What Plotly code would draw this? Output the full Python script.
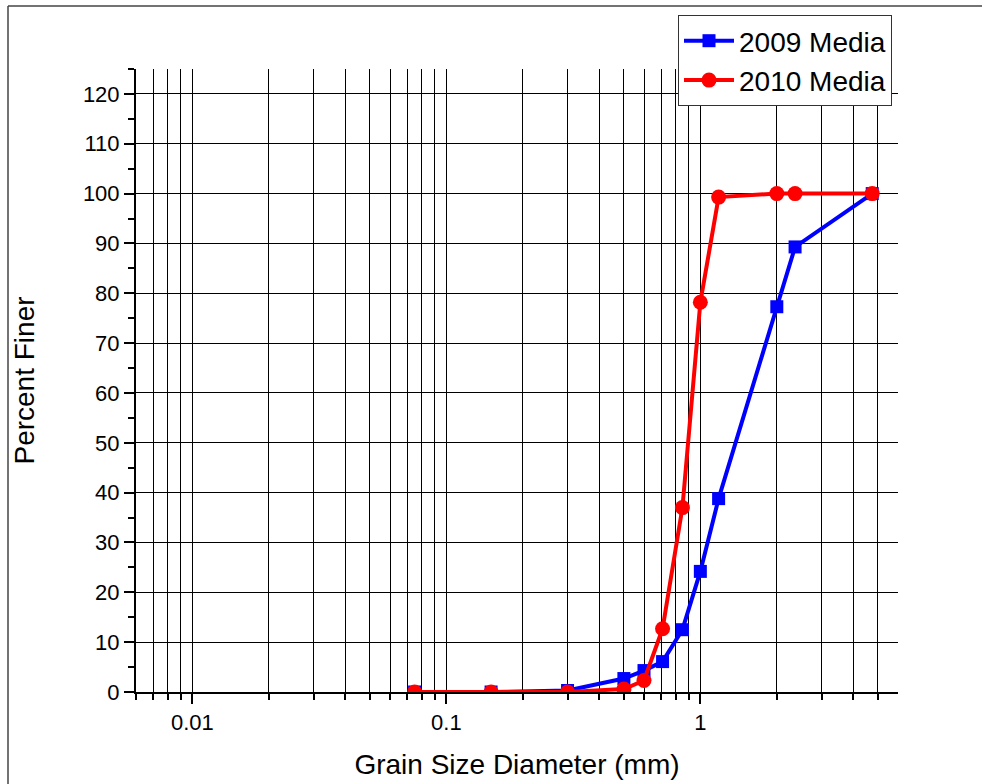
import plotly.graph_objects as go

# Data
grain_size_mm = [0.075, 0.15, 0.3, 0.5, 0.6, 0.71, 0.85, 1.0, 1.18, 2.0, 2.36, 4.75]
finer_2009 = [0.0, 0.0, 0.3, 2.7, 4.3, 6.1, 12.5, 24.2, 38.8, 77.3, 89.3, 100.0]
finer_2010 = [0.0, 0.0, 0.0, 0.6, 2.3, 12.7, 37.0, 78.2, 99.3, 100.0, 100.0, 100.0]

x_major_ticks = [0.01, 0.1, 1]
x_major_text = ["0.01", "0.1", "1"]
x_minor_ticks = [0.006, 0.007, 0.008, 0.009,
                 0.02, 0.03, 0.04, 0.05, 0.06, 0.07, 0.08, 0.09,
                 0.2, 0.3, 0.4, 0.5, 0.6, 0.7, 0.8, 0.9,
                 2, 3, 4, 5]
y_ticks = list(range(0, 121, 10))

FONT = "Liberation Sans, Arial, sans-serif"

fig = go.Figure()
fig.add_trace(go.Scatter(
    x=grain_size_mm, y=finer_2009, name="2009 Media",
    mode="lines+markers",
    line=dict(color="#0000FF", width=4),
    marker=dict(symbol="square", size=13, color="#0000FF"),
))
fig.add_trace(go.Scatter(
    x=grain_size_mm, y=finer_2010, name="2010 Media",
    mode="lines+markers",
    line=dict(color="#FF0000", width=4),
    marker=dict(symbol="circle", size=15, color="#FF0000"),
))

W, H = 982, 784
ml, mr, mt, mb = 136, 84, 69, 92
pw, ph = W - ml - mr, H - mt - mb

def px_x(p):
    return (p - ml) / pw

def px_y(p):
    return (H - mb - p) / ph

frame = dict(color="#444444", width=1.5)
fig.update_layout(
    width=W, height=H,
    margin=dict(l=ml, r=mr, t=mt, b=mb, pad=0, autoexpand=False),
    paper_bgcolor="white", plot_bgcolor="white",
    font=dict(family=FONT, color="black"),
    showlegend=True,
    legend=dict(
        x=px_x(892), y=px_y(15), xanchor="right", yanchor="top",
        bgcolor="white", bordercolor="#333333", borderwidth=1,
        font=dict(size=28, family=FONT), tracegroupgap=0,
        itemwidth=50,
    ),
    shapes=[
        dict(type="line", xref="paper", yref="paper",
             x0=px_x(8), x1=px_x(982), y0=px_y(6), y1=px_y(6), line=frame),
        dict(type="line", xref="paper", yref="paper",
             x0=px_x(8), x1=px_x(8), y0=px_y(6), y1=px_y(784), line=frame),
    ],
)

fig.update_xaxes(
    type="log",
    range=[-2.2218487496, 0.7781512504],
    tickvals=x_major_ticks, ticktext=x_major_text,
    ticks="outside", ticklen=10, tickwidth=2, tickcolor="black",
    tickfont=dict(size=22, family=FONT),
    showgrid=True, gridcolor="black", gridwidth=1,
    showline=True, linecolor="black", linewidth=2,
    zeroline=False, automargin=False,
    minor=dict(tickvals=x_minor_ticks, ticks="outside", ticklen=6,
               tickwidth=2, tickcolor="black",
               showgrid=True, gridcolor="black", gridwidth=1),
    title=dict(text="Grain Size Diameter (mm)", font=dict(size=28, family=FONT), standoff=20),
)
fig.update_yaxes(
    range=[0, 125],
    tickvals=y_ticks,
    ticks="outside", ticklen=10, tickwidth=2, tickcolor="black",
    tickfont=dict(size=22, family=FONT),
    showgrid=True, gridcolor="black", gridwidth=1,
    showline=True, linecolor="black", linewidth=2,
    zeroline=False, automargin=False,
    minor=dict(dtick=5, ticks="outside", ticklen=6, tickwidth=2,
               tickcolor="black", showgrid=False),
    title=dict(text="Percent Finer", font=dict(size=28, family=FONT), standoff=40),
)

fig.write_html("out.html", config={"displayModeBar": False})
